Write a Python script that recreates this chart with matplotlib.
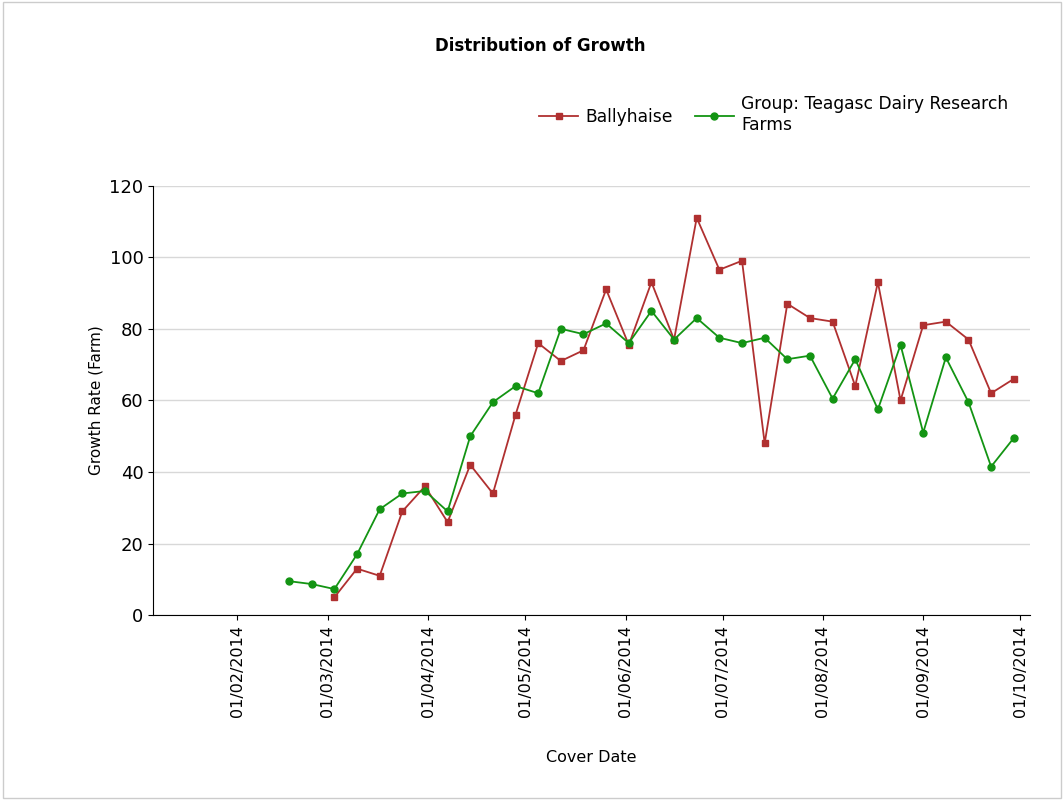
import matplotlib
matplotlib.use('Agg')
import matplotlib.pyplot as plt
import matplotlib.dates as mdates
import pandas as pd

# Weekly cover dates
dates = pd.date_range('2014-02-17', periods=33, freq='7D')

group = [9.5, 8.7, 7.3, 17, 29.6, 34, 34.7, 29, 50, 59.5, 64, 62, 80, 78.5, 81.5, 76,
         85, 77, 83, 77.5, 76, 77.5, 71.5, 72.5, 60.5, 71.5, 57.5, 75.5, 51, 72, 59.5, 41.5, 49.5]
farm = [5, 13, 11, 29, 36, 26, 42, 34, 56, 76, 71, 74, 91, 75.5, 93, 77, 111, 96.5, 99, 48,
        87, 83, 82, 64, 93, 60, 81, 82, 77, 62, 66]
farm_dates = dates[2:]

tick_dates = pd.to_datetime(['2014-02-01', '2014-03-01', '2014-04-01', '2014-05-01', '2014-06-01',
                             '2014-07-01', '2014-08-01', '2014-09-01', '2014-10-01'])

fig = plt.figure(figsize=(10.64, 8), dpi=100)
ax = fig.add_axes([0.144, 0.231, 0.824, 0.537])

ax.plot(farm_dates, farm, color='#b03030', marker='s', markersize=5, lw=1.3, label='Ballyhaise')
ax.plot(dates, group, color='#139413', marker='o', markersize=5, lw=1.3,
        label='Group: Teagasc Dairy Research\nFarms')

ax.set_ylim(0, 120)
ax.set_yticks(range(0, 121, 20))
ax.set_xlim(pd.Timestamp('2014-01-06'), pd.Timestamp('2014-10-04'))
ax.set_xticks(tick_dates)
ax.xaxis.set_major_formatter(mdates.DateFormatter('%d/%m/%Y'))
plt.setp(ax.get_xticklabels(), rotation=90, fontsize=11.5)
ax.tick_params(axis='y', labelsize=13)
ax.yaxis.grid(True, color='#d8d8d8', lw=1)
ax.set_axisbelow(True)
for s in ['top', 'right']:
    ax.spines[s].set_visible(False)

ax.set_ylabel('Growth Rate (Farm)', fontsize=11)
ax.set_xlabel('Cover Date', fontsize=11.5, labelpad=24)
fig.text(0.508, 0.943, 'Distribution of Growth', ha='center', va='center', fontsize=12, fontweight='bold')

fig.legend(loc='upper right', bbox_to_anchor=(0.962, 0.9), ncol=2, frameon=False,
           fontsize=12.3, handlelength=2.3, columnspacing=1.3, handletextpad=0.4)

fig.patches.append(plt.Rectangle((0.003, 0.003), 0.994, 0.994, transform=fig.transFigure,
                                 fill=False, edgecolor='#cccccc', lw=1))

fig.savefig('out.png', dpi=100)
